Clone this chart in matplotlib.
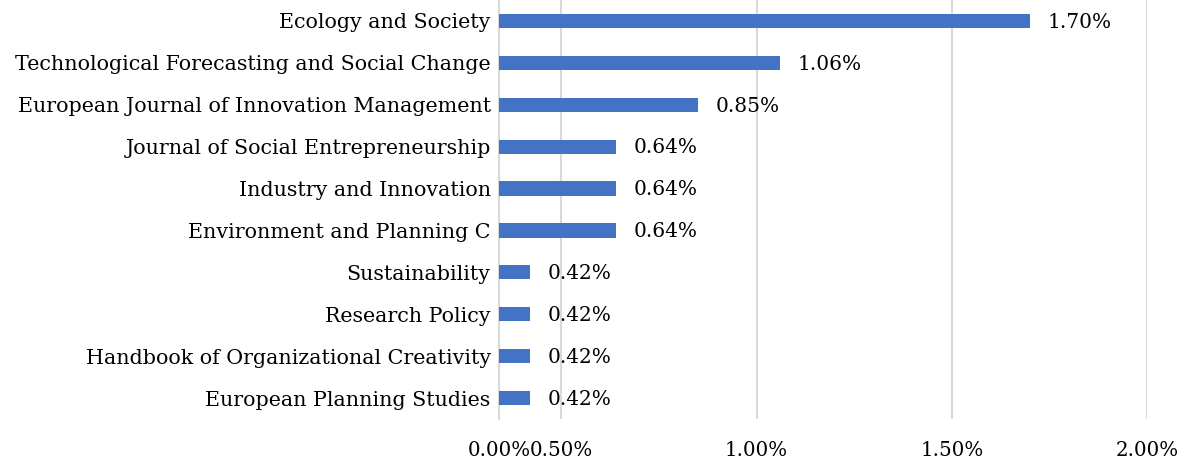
import matplotlib
matplotlib.use("Agg")
import matplotlib.pyplot as plt
from matplotlib.ticker import FixedLocator

journals = [
    "Ecology and Society",
    "Technological Forecasting and Social Change",
    "European Journal of Innovation Management",
    "Journal of Social Entrepreneurship",
    "Industry and Innovation",
    "Environment and Planning C",
    "Sustainability",
    "Research Policy",
    "Handbook of Organizational Creativity",
    "European Planning Studies",
]
shares = [1.70, 1.06, 0.85, 0.64, 0.64, 0.64, 0.42, 0.42, 0.42, 0.42]
tick_values = [0.34, 0.50, 1.00, 1.50, 2.00]
tick_labels = ["0.00%", "0.50%", "1.00%", "1.50%", "2.00%"]

plt.rcParams['font.family'] = ['DejaVu Serif']

fig = plt.figure(figsize=(11.84, 4.65), dpi=100)
ax = fig.add_axes([499/1184, 46/465, (1147-499)/1184, 419/465])

y = list(range(len(journals)))
ax.barh(y, shares, height=0.34, color="#4472C4", zorder=3, left=0)
ax.set_ylim(len(journals) - 0.5, -0.5)
ax.set_xlim(tick_values[0], tick_values[-1])

for yi, v in zip(y, shares):
    ax.text(v + 0.045, yi + 0.03, f"{v:.2f}%", va="center", ha="left", fontsize=14.5, color="#000000")

ax.set_yticks(y)
ax.set_yticklabels(journals, fontsize=14.9)
ax.xaxis.set_major_locator(FixedLocator(tick_values))
ax.set_xticklabels(tick_labels, fontsize=14.3)
ax.tick_params(axis='both', length=0)
ax.tick_params(axis='x', pad=16)
ax.tick_params(axis='y', pad=6)

ax.grid(axis='x', color="#D9D9D9", linewidth=1.5, zorder=0)
for s in ["top", "right", "bottom"]:
    ax.spines[s].set_visible(False)
ax.spines["left"].set_color("#D9D9D9")
ax.spines["left"].set_linewidth(1.5)

fig.savefig("out.png", dpi=100)
